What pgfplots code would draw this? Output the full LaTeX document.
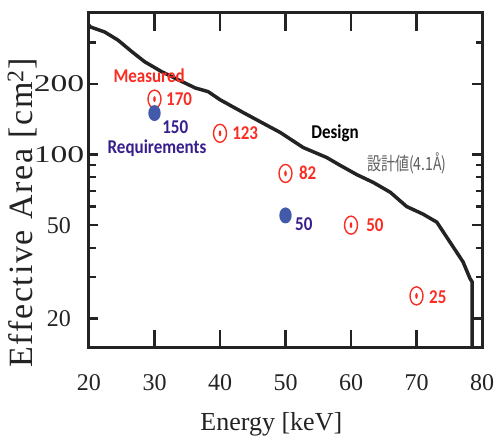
\documentclass[border=0pt]{standalone}
\usepackage{fontspec}
\setmainfont{Liberation Serif}
\newfontfamily\annfont{Carlito}
\newfontfamily\cjk{Noto Sans CJK JP}
\newfontfamily\labfont[LetterSpace=5]{Liberation Serif}
\usepackage{graphicx}
\usepackage{pgfplots}
\pgfplotsset{compat=1.18}

\definecolor{axisgray}{RGB}{35,35,35}
\definecolor{mred}{RGB}{250,45,35}
\definecolor{rblue}{RGB}{65,90,170}
\definecolor{rtext}{RGB}{55,30,140}
\definecolor{jgray}{RGB}{95,95,95}

\pgfdeclareplotmark{odotE}{%
 \pgfpathellipse{\pgfpointorigin}{\pgfpoint{6.5pt}{0pt}}{\pgfpoint{0pt}{9pt}}%
 \pgfusepathqstroke
 \pgfpathellipse{\pgfpointorigin}{\pgfpoint{1.3pt}{0pt}}{\pgfpoint{0pt}{3pt}}%
 \pgfusepathqfill}
\pgfdeclareplotmark{dotE}{%
 \pgfpathellipse{\pgfpointorigin}{\pgfpoint{6.2pt}{0pt}}{\pgfpoint{0pt}{8pt}}%
 \pgfusepathqfill}

\newcommand{\vs}[1]{\scalebox{1}[1.15]{#1}}

\begin{document}
\begin{tikzpicture}[ann/.style={font=\annfont\bfseries\fontsize{17}{20}\selectfont, inner sep=0pt}]
\useasboundingbox (-89pt,-93pt) rectangle (406pt,348pt);
\begin{axis}[
  at={(0,0)}, anchor=south west,
  scale only axis, width=393pt, height=335pt,
  xmin=20, xmax=80, ymode=log, ymin=15, ymax=400,
  xtick={20,30,...,80},
  ytick={20,50,100,200},
  yticklabels={20,50,\scalebox{1.4}[1]{100},\scalebox{1.4}[1]{200}},
  minor ytick={30,40,60,70,80,90,300},
  /pgf/number format/assume math mode=true,
  axis line style={line width=3pt, draw=axisgray},
  tick style={draw=axisgray, line width=2.4pt},
  major tick length=9pt, minor tick length=6pt,
  tick label style={font=\fontsize{24}{28}\selectfont, text=axisgray},
  xticklabel style={yshift=-23pt},
  yticklabel style={anchor=center, xshift=-30pt},
  xlabel={Energy [keV]},
  xlabel style={font=\fontsize{26}{30}\selectfont, text=axisgray, at={(axis description cs:0.464,-0.227)}, anchor=center},
  ylabel={Effective Area [cm\textsuperscript{2}]},
  ylabel style={font=\labfont\fontsize{34}{38}\selectfont, text=axisgray, at={(axis description cs:-0.170,0.403)}, anchor=center},
  tickline/.style={axisgray, line width=2.4pt, forget plot, mark=none},
]
% inward ticks on the energy axis (bottom and top)
\pgfplotsinvokeforeach{30,40,50,60,70}{
  \addplot[tickline] coordinates {(#1,15) (#1,17.9)};
  \addplot[tickline] coordinates {(#1,400) (#1,335.3)};
}
% inward ticks on the area axis (left and right)
\pgfplotsinvokeforeach{20,50,100,200}{
  \addplot[tickline] coordinates {(20,#1) (21.2,#1)};
  \addplot[tickline] coordinates {(80,#1) (78.5,#1)};
}
\pgfplotsinvokeforeach{30,40,60,70,80,90,300}{
  \addplot[tickline] coordinates {(20,#1) (21.05,#1)};
  \addplot[tickline] coordinates {(80,#1) (79.1,#1)};
}
\addplot[line width=3.5pt, color=axisgray, line join=round] coordinates {
(20,355) (20.2,349) (22.4,332) (24.4,307) (26.6,273) (28.5,248) (31.1,225)
(33.6,208) (36.2,192) (38.2,185) (40.0,171) (43.5,151) (46.1,138) (49.2,124)
(52.7,107) (56.3,97) (58.3,90) (60.9,82) (63.4,76) (66.0,69) (68.5,60)
(71.0,55.7) (73.1,51.5) (75.1,42.4) (77.1,34.9) (78.2,29.5) (78.5,28.7) (78.5,15)
};
\addplot[only marks, mark=odotE, mark options={draw=mred, fill=mred, line width=1.4pt}] coordinates {
(30,172) (40,123) (50,83) (60,50) (70,25)
};
\addplot[only marks, mark=dotE, mark options={fill=rblue, draw=none}] coordinates {
(30,150) (50,55)
};
\node[ann, text=mred, anchor=center] at (rel axis cs:0.153,0.812) {\vs{Measured}};
\node[ann, text=mred, anchor=west] at (rel axis cs:0.196,0.743) {\vs{170}};
\node[ann, text=rtext, anchor=west] at (rel axis cs:0.186,0.660) {\vs{150}};
\node[ann, text=rtext, anchor=center] at (rel axis cs:0.173,0.597) {\vs{Requirements}};
\node[ann, text=mred, anchor=west] at (rel axis cs:0.364,0.642) {\vs{123}};
\node[ann, text=black, anchor=center] at (rel axis cs:0.626,0.642) {\vs{Design}};
\node[inner sep=0pt, text=jgray, font=\cjk\fontsize{14}{17}\selectfont, anchor=center] at (rel axis cs:0.809,0.552) {\scalebox{1}[1.3]{設計値(4.1Å)}};
\node[ann, text=mred, anchor=west] at (rel axis cs:0.534,0.522) {\vs{82}};
\node[ann, text=rtext, anchor=west] at (rel axis cs:0.524,0.370) {\vs{50}};
\node[ann, text=mred, anchor=west] at (rel axis cs:0.705,0.367) {\vs{50}};
\node[ann, text=mred, anchor=west] at (rel axis cs:0.865,0.152) {\vs{25}};
\end{axis}
\end{tikzpicture}
\end{document}
